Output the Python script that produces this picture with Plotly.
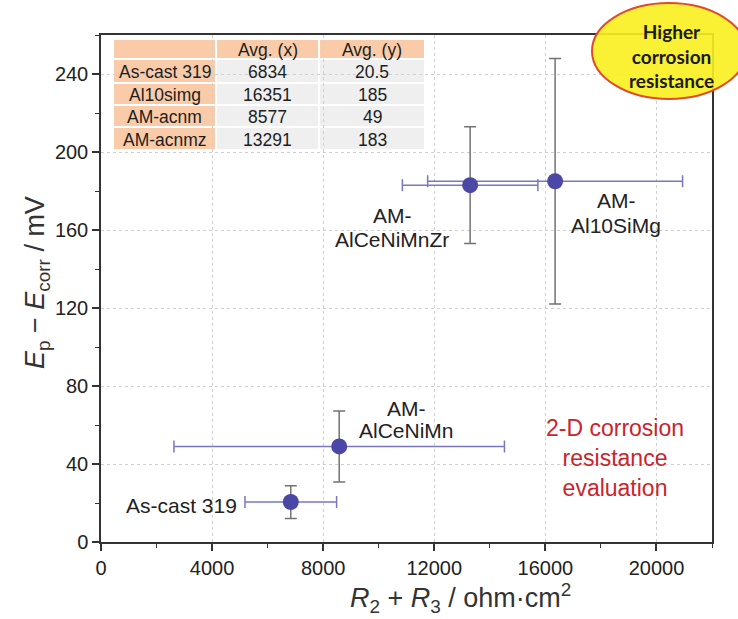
import plotly.graph_objects as go

# --- data -------------------------------------------------------------
table_names = ["As-cast 319", "Al10simg", "AM-acnm", "AM-acnmz"]
table_header = ["", "Avg. (x)", "Avg. (y)"]
x_avg = [6834, 16351, 8577, 13291]          # R2 + R3, ohm·cm2
y_avg = [20.5, 185, 49, 183]                # Ep - Ecorr, mV
x_err = [1650, 4590, 5950, 2440]
y_err = [8.4, 63, 18.2, 29.9]
point_labels = [["As-cast 319"], ["AM-", "Al10SiMg"], ["AM-", "AlCeNiMn"], ["AM-", "AlCeNiMnZr"]]

x_ticks = [0, 4000, 8000, 12000, 16000, 20000]
x_ticktext = ["0", "4000", "8000", "12000", "16000", "20000"]
y_ticks = [0, 40, 80, 120, 160, 200, 240]

x_title = "<i>R</i><sub>2</sub> + <i>R</i><sub>3</sub> / ohm·cm<sup>2</sup>"
y_title = "<i>E</i><sub>p</sub> − <i>E</i><sub>corr</sub> / mV"

# --- layout geometry (pixels) -------------------------------------------
W, H = 738, 619
L, R, T, B = 101, 712, 35, 542
X_RANGE = [0, 22000]
Y_RANGE = [0, 260]


def px_to_x(px):
    return X_RANGE[0] + (px - L) / (R - L) * (X_RANGE[1] - X_RANGE[0])


def px_to_y(py):
    return Y_RANGE[0] + (B - py) / (B - T) * (Y_RANGE[1] - Y_RANGE[0])


def paper_x(px):
    return (px - L) / (R - L)


def paper_y(py):
    return (B - py) / (B - T)


TEXT = "#222222"
FONT = "Liberation Sans, Arial, sans-serif"
PEACH = "#f9cba8"
LIGHT = "#efefef"

fig = go.Figure()

fig.add_trace(go.Scatter(
    x=x_avg, y=y_avg, mode="markers",
    marker=dict(size=16, color="#4a47a6", line=dict(width=0)),
    error_x=dict(type="data", array=x_err, visible=True,
                 color="#7977c2", thickness=1.5, width=6),
    error_y=dict(type="data", array=y_err, visible=True,
                 color="#737373", thickness=1.5, width=6),
    showlegend=False, hoverinfo="skip",
))

annotations = []
shapes = []

# --- summary table (upper-left corner) ------------------------------------
col_edges = [113, 216, 319, 425]
row_edges = [39, 59, 83, 105, 127, 150]
shapes.append(dict(type="rect", xref="paper", yref="paper", layer="between",
                   x0=paper_x(col_edges[0]), x1=paper_x(col_edges[-1]),
                   y0=paper_y(row_edges[-1]), y1=paper_y(row_edges[0]),
                   fillcolor="white", line=dict(width=0)))
table_cols = [table_names, [f"{v:d}" for v in x_avg], [f"{v:g}" for v in y_avg]]
for c in range(3):
    column = [table_header[c]] + table_cols[c]
    for r, text in enumerate(column):
        x0, x1 = col_edges[c] + 1, col_edges[c + 1] - 1
        y0, y1 = row_edges[r] + 1, row_edges[r + 1] - 1
        fill = PEACH if (r == 0 or c == 0) else LIGHT
        shapes.append(dict(type="rect", xref="paper", yref="paper", layer="between",
                           x0=paper_x(x0), x1=paper_x(x1),
                           y0=paper_y(y1), y1=paper_y(y0),
                           fillcolor=fill, line=dict(width=0)))
        if text:
            annotations.append(dict(
                x=paper_x((x0 + x1) / 2), y=paper_y((y0 + y1) / 2 + 1),
                xref="paper", yref="paper", text=text, showarrow=False,
                xanchor="center", yanchor="middle",
                font=dict(family=FONT, size=17.5, color="#1e1e1e")))

# --- point labels ---------------------------------------------------------
label_pos = {
    0: dict(px=239, lines=[505], anchor="right"),
    1: dict(px=616, lines=[200, 225], anchor="center"),
    2: dict(px=406, lines=[408, 430], anchor="center"),
    3: dict(px=392, lines=[215, 239], anchor="center"),
}
for i, parts in enumerate(point_labels):
    pos = label_pos[i]
    for text, py in zip(parts, pos["lines"]):
        annotations.append(dict(
            x=px_to_x(pos["px"]), y=px_to_y(py), xref="x", yref="y",
            text=text, showarrow=False, xanchor=pos["anchor"], yanchor="middle",
            font=dict(family=FONT, size=21, color=TEXT)))

# red note
annotations.append(dict(
    x=px_to_x(615), y=px_to_y(458), xref="x", yref="y",
    text="2-D corrosion<br>resistance<br>evaluation", showarrow=False,
    xanchor="center", yanchor="middle", align="center",
    font=dict(family=FONT, size=23, color="#c9252c")))

# callout ellipse with its text
shapes.append(dict(
    type="circle", xref="paper", yref="paper", layer="above",
    x0=paper_x(592), x1=paper_x(746), y0=paper_y(99), y1=paper_y(3),
    fillcolor="rgba(250,240,30,0.9)", line=dict(color="#e04a2c", width=2)))
annotations.append(dict(
    x=paper_x(671), y=paper_y(56), xref="paper", yref="paper",
    text="<b>Higher<br>corrosion<br>resistance</b>", showarrow=False,
    xanchor="center", yanchor="middle", align="center",
    font=dict(family="Lato, sans-serif", size=19, color="#1a1a1a")))

# axis titles
annotations.append(dict(
    x=paper_x(460), y=paper_y(598), xref="paper", yref="paper",
    text=x_title, showarrow=False, xanchor="center", yanchor="middle",
    font=dict(family=FONT, size=27, color="#333333")))
annotations.append(dict(
    x=paper_x(37), y=paper_y(283), xref="paper", yref="paper",
    text=y_title, showarrow=False, xanchor="center", yanchor="middle",
    textangle=-90, font=dict(family=FONT, size=27, color="#333333")))

axis_common = dict(
    showline=True, linecolor="#333333", linewidth=1.5, mirror=True,
    ticks="outside", ticklen=7, tickwidth=1.5, tickcolor="#333333",
    showgrid=True, gridcolor="#cfcfcf", griddash="dot", gridwidth=1,
    zeroline=False,
    tickfont=dict(family=FONT, size=20, color=TEXT),
)

fig.update_layout(
    width=W, height=H,
    margin=dict(l=L, r=W - R, t=T, b=H - B),
    paper_bgcolor="white", plot_bgcolor="white",
    xaxis=dict(range=X_RANGE, tickvals=x_ticks, ticktext=x_ticktext,
               minor=dict(dtick=2000, tick0=0, ticks="outside", ticklen=4,
                          tickwidth=1.2, tickcolor="#333333", showgrid=False),
               **axis_common),
    yaxis=dict(range=Y_RANGE, tickvals=y_ticks,
               minor=dict(dtick=20, tick0=0, ticks="outside", ticklen=4,
                          tickwidth=1.2, tickcolor="#333333", showgrid=False),
               **axis_common),
    annotations=annotations,
    shapes=shapes,
)

fig.write_html("out.html")
